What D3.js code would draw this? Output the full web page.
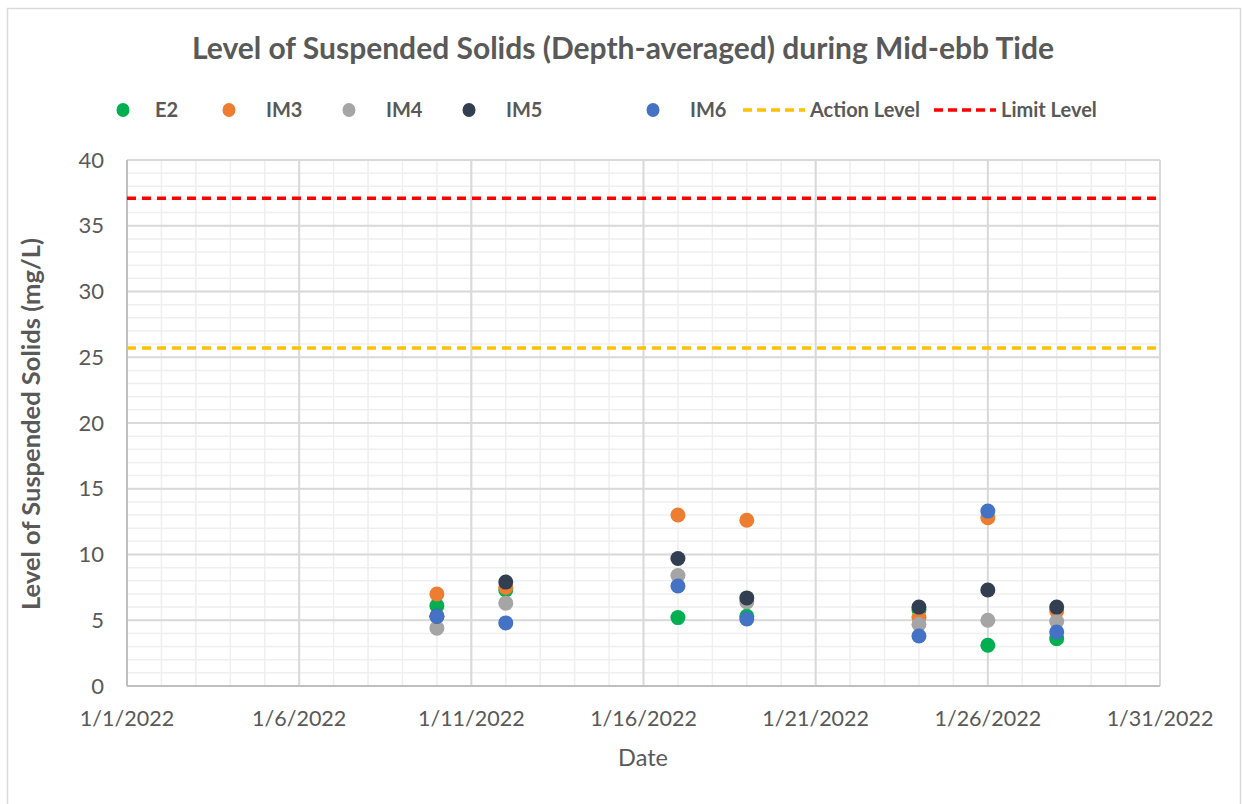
<!DOCTYPE html>
<html>
<head>
<meta charset="utf-8">
<script src="https://cdn.jsdelivr.net/npm/d3@7"></script>
<style>
  body { margin: 0; background: #fff; }
  text { font-family: Lato, "Open Sans", sans-serif; fill: #595959; }
</style>
</head>
<body>
<div id="chart"></div>
<script>
// data
let sampleDates = ["2022-01-10", "2022-01-12", "2022-01-17", "2022-01-19", "2022-01-24", "2022-01-26", "2022-01-28"];
let seriesNames = ["E2", "IM3", "IM4", "IM5", "IM6"];
let valuesE2 = [6.1, 7.3, 5.2, 5.3, 5.8, 3.1, 3.6];
let valuesIM3 = [7.0, 7.5, 13.0, 12.6, 5.2, 12.8, 5.7];
let valuesIM4 = [4.4, 6.3, 8.4, 6.4, 4.7, 5.0, 4.9];
let valuesIM5 = [5.3, 7.9, 9.7, 6.7, 6.0, 7.3, 6.0];
let valuesIM6 = [5.3, 4.8, 7.6, 5.1, 3.8, 13.3, 4.1];
let actionLevel = 25.7;
let limitLevel = 37.1;
let yTicks = [0, 5, 10, 15, 20, 25, 30, 35, 40];

let seriesColors = ["#00B050", "#ED7D31", "#A5A5A5", "#333F50", "#4472C4"];
let seriesValues = [valuesE2, valuesIM3, valuesIM4, valuesIM5, valuesIM6];

let width = 1242, height = 804;
let plotLeft = 127, plotRight = 1160, plotTop = 160, plotBottom = 686;

let parse = d3.timeParse("%Y-%m-%d");
let x = d3.scaleTime()
  .domain([parse("2022-01-01"), parse("2022-01-31")])
  .range([plotLeft, plotRight]);
let y = d3.scaleLinear().domain([0, 40]).range([plotBottom, plotTop]);

let svg = d3.select("#chart").append("svg")
  .attr("width", width)
  .attr("height", height);

// outer chart border
svg.append("rect")
  .attr("x", 7.5).attr("y", 8.5)
  .attr("width", 1233).attr("height", 800)
  .attr("fill", "none")
  .attr("stroke", "#d9d9d9")
  .attr("stroke-width", 1.5);

// minor grid
let grid = svg.append("g");
grid.selectAll(".minx")
  .data(d3.timeDay.range(x.domain()[0], x.domain()[1]))
  .enter().append("line")
  .attr("x1", d => x(d)).attr("x2", d => x(d))
  .attr("y1", plotTop).attr("y2", plotBottom)
  .attr("stroke", "#efefef").attr("stroke-width", 1.5);
grid.selectAll(".miny")
  .data(d3.range(1, 40))
  .enter().append("line")
  .attr("x1", plotLeft).attr("x2", plotRight)
  .attr("y1", d => y(d)).attr("y2", d => y(d))
  .attr("stroke", "#efefef").attr("stroke-width", 1.5);

// major grid
let xTicks = d3.timeDay.range(x.domain()[0], d3.timeDay.offset(x.domain()[1], 1), 5);
grid.selectAll(".majx")
  .data(xTicks)
  .enter().append("line")
  .attr("x1", d => x(d)).attr("x2", d => x(d))
  .attr("y1", plotTop).attr("y2", plotBottom)
  .attr("stroke", "#d9d9d9").attr("stroke-width", 2);
grid.selectAll(".majy")
  .data(yTicks)
  .enter().append("line")
  .attr("x1", plotLeft).attr("x2", plotRight)
  .attr("y1", d => y(d)).attr("y2", d => y(d))
  .attr("stroke", "#d9d9d9").attr("stroke-width", 2);

// axis lines
svg.append("line")
  .attr("x1", plotLeft).attr("x2", plotLeft).attr("y1", plotTop).attr("y2", plotBottom)
  .attr("stroke", "#bfbfbf").attr("stroke-width", 2);
svg.append("line")
  .attr("x1", plotLeft).attr("x2", plotRight).attr("y1", plotBottom).attr("y2", plotBottom)
  .attr("stroke", "#bfbfbf").attr("stroke-width", 2);

// tick labels
let fmt = d => (d.getMonth() + 1) + "/" + d.getDate() + "/" + d.getFullYear();
svg.append("g").selectAll("text")
  .data(xTicks)
  .enter().append("text")
  .attr("x", d => x(d))
  .attr("y", 718)
  .attr("dy", "0.35em")
  .attr("text-anchor", "middle")
  .style("font-size", "21.5px")
  .text(fmt);
svg.append("g").selectAll("text")
  .data(yTicks)
  .enter().append("text")
  .attr("x", 104)
  .attr("y", d => y(d))
  .attr("dy", "0.35em")
  .attr("text-anchor", "end")
  .style("font-size", "22px")
  .text(d => d);

// threshold lines
svg.append("line")
  .attr("x1", plotLeft).attr("x2", plotRight)
  .attr("y1", y(actionLevel)).attr("y2", y(actionLevel))
  .attr("stroke", "#FFC000").attr("stroke-width", 3.5)
  .attr("stroke-dasharray", "9,6");
svg.append("line")
  .attr("x1", plotLeft).attr("x2", plotRight)
  .attr("y1", y(limitLevel)).attr("y2", y(limitLevel))
  .attr("stroke", "#FF0000").attr("stroke-width", 3.5)
  .attr("stroke-dasharray", "9,6");

// points, drawn in series order
seriesValues.forEach(function(vals, i) {
  svg.append("g").selectAll("circle")
    .data(vals)
    .enter().append("circle")
    .attr("cx", (d, j) => x(parse(sampleDates[j])))
    .attr("cy", d => y(d))
    .attr("r", 7.5)
    .attr("fill", seriesColors[i]);
});

// title
svg.append("text")
  .attr("x", 623).attr("y", 48)
  .attr("dy", "0.35em")
  .attr("text-anchor", "middle")
  .style("font-size", "30px")
  .style("font-weight", "bold")
  .text("Level of Suspended Solids (Depth-averaged) during Mid-ebb Tide");

// axis titles
svg.append("text")
  .attr("x", 643).attr("y", 758)
  .attr("dy", "0.35em")
  .attr("text-anchor", "middle")
  .style("font-size", "23.5px")
  .text("Date");
svg.append("text")
  .attr("transform", "translate(31,424) rotate(-90)")
  .attr("dy", "0.35em")
  .attr("text-anchor", "middle")
  .style("font-size", "25.5px")
  .style("font-weight", "bold")
  .text("Level of Suspended Solids (mg/L)");

// legend
let legendX = [123, 229, 349, 469, 653];
let legendTextX = [155, 266, 386, 506, 690];
let legend = svg.append("g");
seriesNames.forEach(function(name, i) {
  legend.append("ellipse")
    .attr("cx", legendX[i]).attr("cy", 110)
    .attr("rx", 6.5).attr("ry", 7)
    .attr("fill", seriesColors[i]);
  legend.append("text")
    .attr("x", legendTextX[i]).attr("y", 110)
    .attr("dy", "0.35em")
    .style("font-size", "20px")
    .style("font-weight", "bold")
    .text(name);
});
let lineItems = [
  { label: "Action Level", color: "#FFC000", x0: 743 },
  { label: "Limit Level", color: "#FF0000", x0: 934 }
];
lineItems.forEach(function(it) {
  legend.append("line")
    .attr("x1", it.x0).attr("x2", it.x0 + 62)
    .attr("y1", 110).attr("y2", 110)
    .attr("stroke", it.color).attr("stroke-width", 3.5)
    .attr("stroke-dasharray", "9,5");
  legend.append("text")
    .attr("x", it.x0 + 67).attr("y", 110)
    .attr("dy", "0.35em")
    .style("font-size", "20px")
    .style("font-weight", "bold")
    .text(it.label);
});
</script>
</body>
</html>
